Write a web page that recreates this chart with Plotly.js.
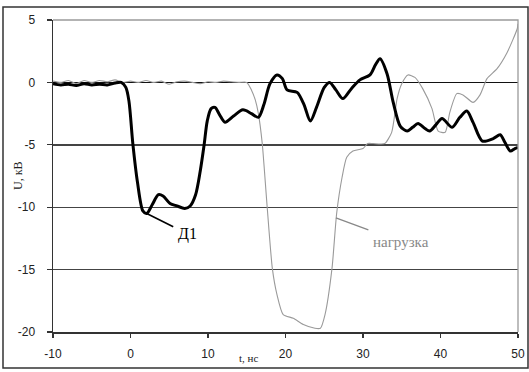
<!DOCTYPE html>
<html>
<head>
<meta charset="utf-8">
<script src="https://cdn.plot.ly/plotly-3.0.1.min.js"></script>
<style>
  html, body { margin: 0; padding: 0; background: #fff; }
  #chart { width: 529px; height: 372px; }
</style>
</head>
<body>
<div id="chart"></div>
<script>
// Diode voltage (Д1), t in ns, U in kV
const tD1 = [-10, -9, -8, -7, -6, -5, -4, -3, -2, -1.2, -0.6, -0.2, 0.3, 0.9, 1.6, 2.1, 2.8, 3.6, 4.2, 5.1, 6.0, 7.0, 7.7, 8.4, 9.0, 9.5, 9.9, 10.4, 10.9, 11.5, 12.2, 13.3, 14.5, 15.6, 16.5, 17.2, 18.0, 18.9, 19.6, 20.2, 21.5, 22.4, 23.2, 24.0, 25.0, 25.7, 26.5, 27.4, 28.5, 29.6, 30.9, 31.6, 32.2, 33.1, 33.9, 34.8, 35.7, 36.4, 37.1, 38.0, 38.6, 39.4, 40.2, 41.5, 42.5, 43.4, 44.2, 45.4, 46.8, 47.7, 48.3, 49.0, 49.6, 50];
const uD1 = [-0.1, -0.2, -0.15, -0.25, -0.1, -0.2, -0.15, -0.2, -0.05, 0.0, -0.4, -1.5, -4.9, -8.0, -10.3, -10.5, -9.8, -9.0, -9.1, -9.7, -9.9, -10.1, -9.9, -9.0, -7.1, -5.0, -3.1, -2.1, -2.0, -2.6, -3.2, -2.7, -2.2, -2.5, -2.8, -1.8, -0.1, 0.6, 0.3, -0.6, -0.8, -1.8, -3.1, -2.0, -0.4, 0.0, -0.6, -1.3, -0.5, 0.2, 0.6, 1.4, 1.9, 0.7, -1.6, -3.5, -3.9, -3.6, -3.3, -3.7, -3.9, -3.4, -2.9, -3.6, -2.8, -2.3, -3.2, -4.7, -4.5, -4.2, -4.8, -5.5, -5.3, -5.2];

// Load voltage (нагрузка)
const tLoad = [-10, -9, -8, -7, -6, -5, -4, -3, -2, -1, 0, 1, 2, 3, 4, 5, 6, 7, 8, 9, 10, 11, 12, 13, 14, 15, 15.6, 16.1, 16.5, 17.0, 17.6, 18.3, 18.9, 19.7, 21.0, 22.3, 23.8, 24.5, 25.1, 26.0, 26.6, 27.3, 27.9, 28.7, 30.0, 30.6, 31.3, 32.8, 33.7, 34.4, 35.0, 35.8, 36.7, 37.7, 38.9, 39.7, 40.6, 41.2, 42.1, 42.9, 44.2, 45.1, 46.0, 47.3, 48.6, 49.9, 50];
const uLoad = [0.1, 0.0, 0.15, -0.1, 0.15, 0.0, 0.15, 0.05, 0.2, 0.0, 0.1, 0.0, 0.15, 0.0, 0.1, -0.15, 0.05, 0.1, 0.0, -0.1, 0.05, 0.0, 0.1, 0.05, 0.0, 0.0, -0.6, -1.4, -2.5, -4.9, -9.7, -14.9, -17.0, -18.6, -18.9, -19.4, -19.7, -19.7, -18.6, -14.9, -10.5, -7.6, -6.0, -5.5, -5.3, -4.9, -4.9, -4.9, -4.0, -1.3, -0.1, 0.6, 0.4, -0.5, -2.1, -3.9, -4.0, -2.4, -0.9, -1.0, -1.6, -1.0, 0.3, 1.1, 2.4, 4.3, 4.7];

const xTicks = [-10, 0, 10, 20, 30, 40, 50];
const yTicks = [-20, -15, -10, -5, 0, 5];

const W = 529, H = 372;
const M = { l: 53, r: 11, t: 20, b: 40 };
const pw = W - M.l - M.r, ph = H - M.t - M.b;
// convert page pixels to paper fractions
const px = v => (v - M.l) / pw;
const py = v => (H - M.b - v) / ph;

const traces = [
  {
    x: tLoad, y: uLoad, type: 'scatter', mode: 'lines',
    line: { color: '#9a9a9a', width: 1.1, shape: 'spline', smoothing: 0.6 },
    hoverinfo: 'skip'
  },
  {
    x: tD1, y: uD1, type: 'scatter', mode: 'lines',
    line: { color: '#000', width: 3, shape: 'spline', smoothing: 0.8 },
    hoverinfo: 'skip'
  }
];

const tickFont = { family: 'Liberation Sans, Arial, sans-serif', size: 12, color: '#222' };

const layout = {
  width: W, height: H,
  margin: M,
  paper_bgcolor: '#fff',
  plot_bgcolor: '#fff',
  showlegend: false,
  xaxis: {
    range: [-10, 50], tickvals: xTicks, ticktext: xTicks.map(String),
    showgrid: false, zeroline: false,
    showline: true, linecolor: '#333', linewidth: 1.5,
    ticks: 'outside', ticklen: 4, tickwidth: 1.2, tickcolor: '#333',
    ticklabelstandoff: 6,
    tickfont: tickFont, fixedrange: true
  },
  yaxis: {
    range: [-20, 5], tickvals: yTicks, ticktext: yTicks.map(String),
    showgrid: true, gridcolor: '#444', gridwidth: 1.4,
    zeroline: true, zerolinecolor: '#111', zerolinewidth: 1.6,
    showline: true, linecolor: '#333', linewidth: 1.5,
    ticks: 'outside', ticklen: 5, tickwidth: 1.2, tickcolor: '#333',
    ticklabelstandoff: 9,
    tickfont: tickFont, fixedrange: true
  },
  shapes: [
    // light frame on the top and right of the plot area
    { type: 'path', xref: 'paper', yref: 'paper', path: 'M0,1 L1,1 L1,0',
      line: { color: '#9a9a9a', width: 1.3 }, layer: 'above' },
    // outer chart frame
    { type: 'rect', xref: 'paper', yref: 'paper',
      x0: px(3), x1: px(528), y0: py(368), y1: py(7),
      line: { color: '#333', width: 1.5 }, layer: 'below' }
  ],
  annotations: [
    { x: 1.9, y: -10.45, xref: 'x', yref: 'y', text: 'Д1',
      showarrow: true, arrowhead: 0, arrowwidth: 1.6, arrowcolor: '#000',
      ax: 42, ay: 21, borderpad: 4,
      font: { family: 'Liberation Serif, Times New Roman, serif', size: 16, color: '#000' } },
    { x: 26.5, y: -10.85, xref: 'x', yref: 'y', text: 'нагрузка',
      showarrow: true, arrowhead: 0, arrowwidth: 1.3, arrowcolor: '#888',
      ax: 65, ay: 24, borderpad: 4,
      font: { family: 'Liberation Serif, Times New Roman, serif', size: 15, color: '#888' } },
    { x: px(18), y: py(176), xref: 'paper', yref: 'paper', text: 'U, кВ',
      textangle: -90, showarrow: false, xanchor: 'center', yanchor: 'middle',
      font: { family: 'Liberation Serif, Times New Roman, serif', size: 12, color: '#222' } },
    { x: px(248), y: py(358), xref: 'paper', yref: 'paper', text: 't, нс',
      showarrow: false, xanchor: 'center', yanchor: 'middle',
      font: { family: 'Liberation Serif, Times New Roman, serif', size: 11, color: '#222' } }
  ]
};

Plotly.newPlot('chart', traces, layout, { staticPlot: true, displayModeBar: false });
</script>
</body>
</html>
